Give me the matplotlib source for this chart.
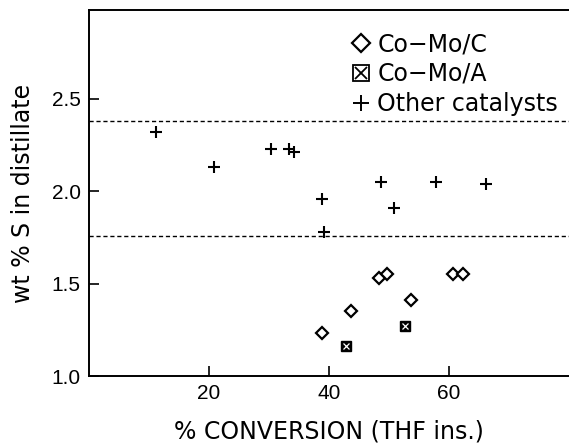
import matplotlib
matplotlib.use('Agg')
import matplotlib.pyplot as plt
from matplotlib.lines import Line2D

# sulfur content of distillate vs conversion, by catalyst type
conv_cmc = [38.9, 43.6, 48.4, 49.6, 53.6, 60.7, 62.3]
sulf_cmc = [1.23, 1.35, 1.53, 1.55, 1.41, 1.55, 1.55]

conv_cma = [42.8, 52.7]
sulf_cma = [1.16, 1.27]

conv_other = [11.1, 20.8, 30.3, 33.4, 34.1, 38.8, 39.1, 48.6, 50.9, 57.9, 66.1]
sulf_other = [2.32, 2.13, 2.23, 2.23, 2.21, 1.96, 1.78, 2.05, 1.91, 2.05, 2.04]

# reference band
band_lo = 1.755
band_hi = 2.38

xticks = [20, 40, 60]
yticks = [1.0, 1.5, 2.0, 2.5]
legend_labels = ['Co\u2212Mo/C', 'Co\u2212Mo/A', 'Other catalysts']

plt.rcParams['font.family'] = ['Liberation Sans', 'DejaVu Sans']

fig = plt.figure(figsize=(5.69, 4.47), dpi=100)
ax = fig.add_axes([89 / 569, 1 - 376 / 447, 480 / 569, 366 / 447])

ax.axhline(band_hi, color='black', lw=1.0, ls=(0, (3, 2)))
ax.axhline(band_lo, color='black', lw=1.0, ls=(0, (3, 2)))

ax.plot(conv_other, sulf_other, ls='none', marker='+', ms=9, mew=1.5, color='black')
ax.plot(conv_cmc, sulf_cmc, ls='none', marker='D', ms=6, mew=1.6,
        mfc='white', mec='black')
ax.plot(conv_cma, sulf_cma, ls='none', marker='s', ms=7, mew=1.0,
        mfc='black', mec='black')
ax.plot(conv_cma, sulf_cma, ls='none', marker='x', ms=4, mew=0.9, color='white')

ax.set_xlim(0, 80)
ax.set_ylim(1.0, 2.98)
ax.set_xticks(xticks)
ax.set_yticks(yticks)
ax.set_yticklabels([f'{v:.1f}' for v in yticks])
ax.tick_params(direction='in', length=7, width=1.2, labelsize=15, pad=6)
ax.spines['right'].set_visible(False)
for s in ['left', 'bottom', 'top']:
    ax.spines[s].set_linewidth(1.4)

ax.set_xlabel('% CONVERSION (THF ins.)', fontsize=17, labelpad=12,
              family='DejaVu Sans')
ax.set_ylabel('wt % S in distillate', fontsize=17, labelpad=12,
              family='DejaVu Sans')

handles = [
    Line2D([0], [0], ls='none', marker='D', ms=9, mew=1.6, mfc='white', mec='black'),
    (Line2D([0], [0], ls='none', marker='s', ms=11, mew=1.3, mfc='white', mec='black'),
     Line2D([0], [0], ls='none', marker='x', ms=9, mew=1.3, color='black')),
    Line2D([0], [0], ls='none', marker='+', ms=11, mew=1.4, color='black'),
]
ax.legend(handles, legend_labels,
          loc='upper left', bbox_to_anchor=(0.512, 0.985), frameon=False,
          prop={'family': 'DejaVu Sans', 'size': 17},
          handlelength=0.8, handletextpad=0.3, labelspacing=0.25, borderpad=0.2)

fig.savefig('out.png', dpi=100)
